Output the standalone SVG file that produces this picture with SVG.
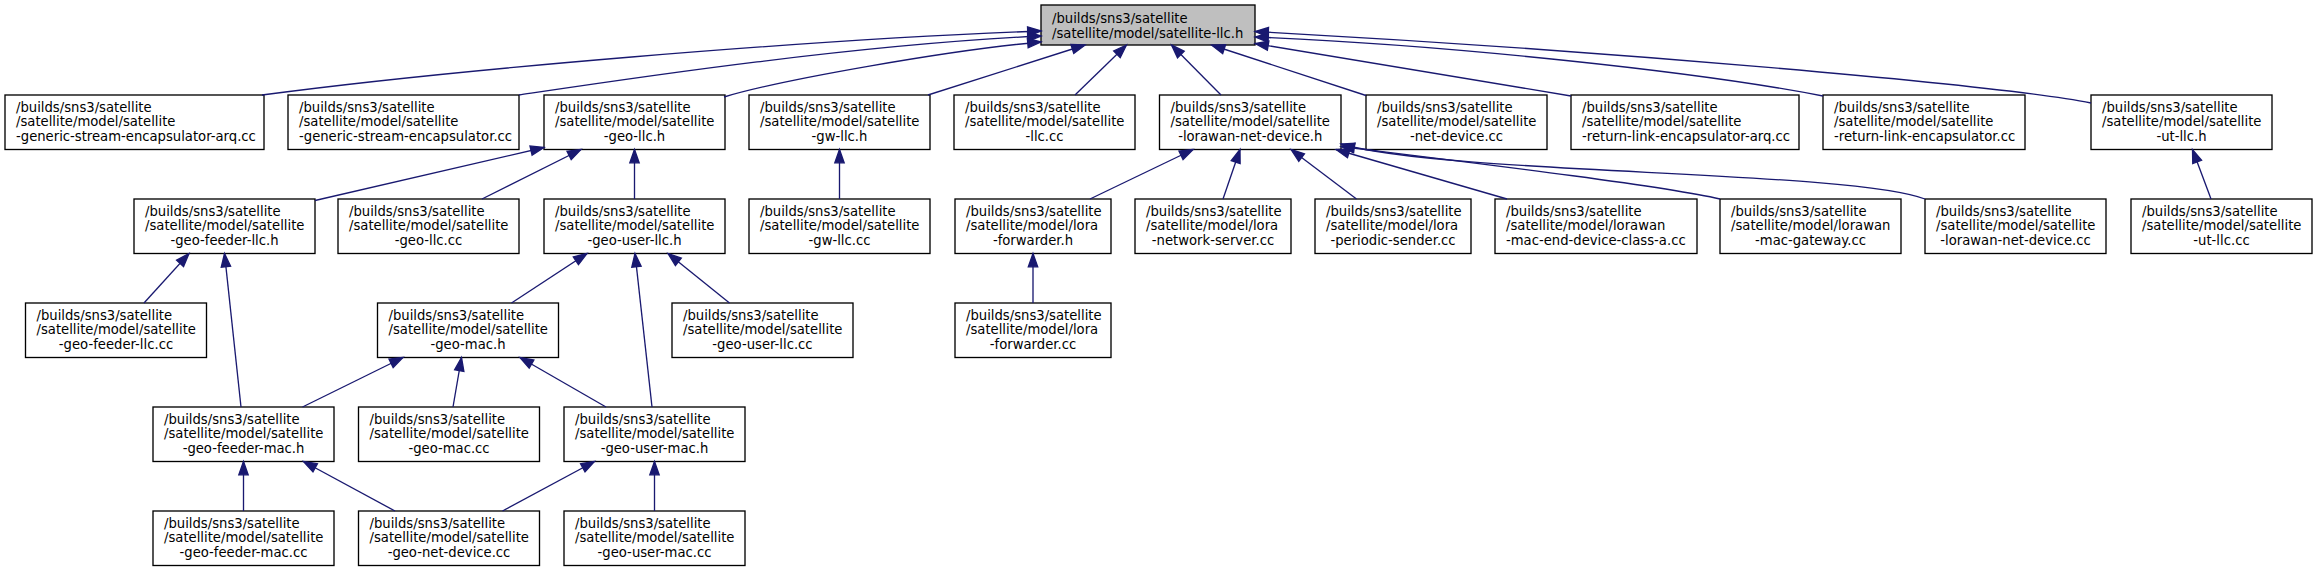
<svg xmlns="http://www.w3.org/2000/svg" width="2317" height="572" viewBox="0 0 2317 572">
<style>
.n rect{fill:#fff;stroke:#000;stroke-width:1.33}
#root rect{fill:#bfbfbf}
text{font-family:"DejaVu Sans","Liberation Sans",sans-serif;font-size:13.2px;fill:#000}
.m{text-anchor:middle}
.e{fill:none;stroke:#191970;stroke-width:1.33;marker-end:url(#ah)}
</style>
<defs>
<marker id="ah" markerUnits="userSpaceOnUse" markerWidth="18" markerHeight="14" viewBox="-15 -7 18 14" refX="0" refY="0" orient="auto">
<path d="M0,0 L-13.3,-4.7 L-13.3,4.7 Z" fill="#191970" stroke="#191970" stroke-width="1.33"/>
</marker>
</defs>
<rect width="2317" height="572" fill="#fff"/>

<g id="root" class="n"><rect x="1041" y="5" width="214" height="40"/><text x="1052" y="23.3">/builds/sns3/satellite</text><text x="1052" y="37.8">/satellite/model/satellite-llc.h</text></g>

<g id="n_gse_arq" class="n"><rect x="5" y="95" width="259" height="54.5"/><text x="16" y="111.5">/builds/sns3/satellite</text><text x="16" y="126">/satellite/model/satellite</text><text x="16" y="140.5">-generic-stream-encapsulator-arq.cc</text></g>
<g id="n_gse" class="n"><rect x="288" y="95" width="231" height="54.5"/><text x="299" y="111.5">/builds/sns3/satellite</text><text x="299" y="126">/satellite/model/satellite</text><text x="299" y="140.5">-generic-stream-encapsulator.cc</text></g>
<g id="n_geo_llc_h" class="n"><rect x="544" y="95" width="181" height="54.5"/><text x="555" y="111.5">/builds/sns3/satellite</text><text x="555" y="126">/satellite/model/satellite</text><text class="m" x="634.5" y="140.5">-geo-llc.h</text></g>
<g id="n_gw_llc_h" class="n"><rect x="749" y="95" width="181" height="54.5"/><text x="760" y="111.5">/builds/sns3/satellite</text><text x="760" y="126">/satellite/model/satellite</text><text class="m" x="839.5" y="140.5">-gw-llc.h</text></g>
<g id="n_llc_cc" class="n"><rect x="954" y="95" width="181" height="54.5"/><text x="965" y="111.5">/builds/sns3/satellite</text><text x="965" y="126">/satellite/model/satellite</text><text class="m" x="1044.5" y="140.5">-llc.cc</text></g>
<g id="n_lorawan_nd_h" class="n"><rect x="1159.5" y="95" width="181.5" height="54.5"/><text x="1170.5" y="111.5">/builds/sns3/satellite</text><text x="1170.5" y="126">/satellite/model/satellite</text><text class="m" x="1250.25" y="140.5">-lorawan-net-device.h</text></g>
<g id="n_net_device_cc" class="n"><rect x="1366" y="95" width="181" height="54.5"/><text x="1377" y="111.5">/builds/sns3/satellite</text><text x="1377" y="126">/satellite/model/satellite</text><text class="m" x="1456.5" y="140.5">-net-device.cc</text></g>
<g id="n_rle_arq" class="n"><rect x="1571" y="95" width="228" height="54.5"/><text x="1582" y="111.5">/builds/sns3/satellite</text><text x="1582" y="126">/satellite/model/satellite</text><text x="1582" y="140.5">-return-link-encapsulator-arq.cc</text></g>
<g id="n_rle" class="n"><rect x="1823" y="95" width="202" height="54.5"/><text x="1834" y="111.5">/builds/sns3/satellite</text><text x="1834" y="126">/satellite/model/satellite</text><text x="1834" y="140.5">-return-link-encapsulator.cc</text></g>
<g id="n_ut_llc_h" class="n"><rect x="2091" y="95" width="181" height="54.5"/><text x="2102" y="111.5">/builds/sns3/satellite</text><text x="2102" y="126">/satellite/model/satellite</text><text class="m" x="2181.5" y="140.5">-ut-llc.h</text></g>

<g id="n_geo_feeder_llc_h" class="n"><rect x="134" y="199" width="181" height="54.5"/><text x="145" y="215.5">/builds/sns3/satellite</text><text x="145" y="230">/satellite/model/satellite</text><text class="m" x="224.5" y="244.5">-geo-feeder-llc.h</text></g>
<g id="n_geo_llc_cc" class="n"><rect x="338" y="199" width="181" height="54.5"/><text x="349" y="215.5">/builds/sns3/satellite</text><text x="349" y="230">/satellite/model/satellite</text><text class="m" x="428.5" y="244.5">-geo-llc.cc</text></g>
<g id="n_geo_user_llc_h" class="n"><rect x="544" y="199" width="181" height="54.5"/><text x="555" y="215.5">/builds/sns3/satellite</text><text x="555" y="230">/satellite/model/satellite</text><text class="m" x="634.5" y="244.5">-geo-user-llc.h</text></g>
<g id="n_gw_llc_cc" class="n"><rect x="749" y="199" width="181" height="54.5"/><text x="760" y="215.5">/builds/sns3/satellite</text><text x="760" y="230">/satellite/model/satellite</text><text class="m" x="839.5" y="244.5">-gw-llc.cc</text></g>
<g id="n_lora_fwd_h" class="n"><rect x="955" y="199" width="156" height="54.5"/><text x="966" y="215.5">/builds/sns3/satellite</text><text x="966" y="230">/satellite/model/lora</text><text class="m" x="1033" y="244.5">-forwarder.h</text></g>
<g id="n_lora_ns_cc" class="n"><rect x="1135" y="199" width="156" height="54.5"/><text x="1146" y="215.5">/builds/sns3/satellite</text><text x="1146" y="230">/satellite/model/lora</text><text class="m" x="1213" y="244.5">-network-server.cc</text></g>
<g id="n_lora_ps_cc" class="n"><rect x="1315" y="199" width="156" height="54.5"/><text x="1326" y="215.5">/builds/sns3/satellite</text><text x="1326" y="230">/satellite/model/lora</text><text class="m" x="1393" y="244.5">-periodic-sender.cc</text></g>
<g id="n_lorawan_ed_cc" class="n"><rect x="1495" y="199" width="202" height="54.5"/><text x="1506" y="215.5">/builds/sns3/satellite</text><text x="1506" y="230">/satellite/model/lorawan</text><text x="1506" y="244.5">-mac-end-device-class-a.cc</text></g>
<g id="n_lorawan_gw_cc" class="n"><rect x="1720" y="199" width="181" height="54.5"/><text x="1731" y="215.5">/builds/sns3/satellite</text><text x="1731" y="230">/satellite/model/lorawan</text><text class="m" x="1810.5" y="244.5">-mac-gateway.cc</text></g>
<g id="n_lorawan_nd_cc" class="n"><rect x="1925" y="199" width="181" height="54.5"/><text x="1936" y="215.5">/builds/sns3/satellite</text><text x="1936" y="230">/satellite/model/satellite</text><text class="m" x="2015.5" y="244.5">-lorawan-net-device.cc</text></g>
<g id="n_ut_llc_cc" class="n"><rect x="2131" y="199" width="181" height="54.5"/><text x="2142" y="215.5">/builds/sns3/satellite</text><text x="2142" y="230">/satellite/model/satellite</text><text class="m" x="2221.5" y="244.5">-ut-llc.cc</text></g>

<g id="n_geo_feeder_llc_cc" class="n"><rect x="25.5" y="303" width="181" height="54.5"/><text x="36.5" y="319.5">/builds/sns3/satellite</text><text x="36.5" y="334">/satellite/model/satellite</text><text class="m" x="116" y="348.5">-geo-feeder-llc.cc</text></g>
<g id="n_geo_mac_h" class="n"><rect x="377.5" y="303" width="181" height="54.5"/><text x="388.5" y="319.5">/builds/sns3/satellite</text><text x="388.5" y="334">/satellite/model/satellite</text><text class="m" x="468" y="348.5">-geo-mac.h</text></g>
<g id="n_geo_user_llc_cc" class="n"><rect x="672" y="303" width="181" height="54.5"/><text x="683" y="319.5">/builds/sns3/satellite</text><text x="683" y="334">/satellite/model/satellite</text><text class="m" x="762.5" y="348.5">-geo-user-llc.cc</text></g>
<g id="n_lora_fwd_cc" class="n"><rect x="955" y="303" width="156" height="54.5"/><text x="966" y="319.5">/builds/sns3/satellite</text><text x="966" y="334">/satellite/model/lora</text><text class="m" x="1033" y="348.5">-forwarder.cc</text></g>

<g id="n_geo_feeder_mac_h" class="n"><rect x="153" y="407" width="181" height="54.5"/><text x="164" y="423.5">/builds/sns3/satellite</text><text x="164" y="438">/satellite/model/satellite</text><text class="m" x="243.5" y="452.5">-geo-feeder-mac.h</text></g>
<g id="n_geo_mac_cc" class="n"><rect x="358.5" y="407" width="181" height="54.5"/><text x="369.5" y="423.5">/builds/sns3/satellite</text><text x="369.5" y="438">/satellite/model/satellite</text><text class="m" x="449" y="452.5">-geo-mac.cc</text></g>
<g id="n_geo_user_mac_h" class="n"><rect x="564" y="407" width="181" height="54.5"/><text x="575" y="423.5">/builds/sns3/satellite</text><text x="575" y="438">/satellite/model/satellite</text><text class="m" x="654.5" y="452.5">-geo-user-mac.h</text></g>

<g id="n_geo_feeder_mac_cc" class="n"><rect x="153" y="511" width="181" height="54.5"/><text x="164" y="527.5">/builds/sns3/satellite</text><text x="164" y="542">/satellite/model/satellite</text><text class="m" x="243.5" y="556.5">-geo-feeder-mac.cc</text></g>
<g id="n_geo_net_device_cc" class="n"><rect x="358.5" y="511" width="181" height="54.5"/><text x="369.5" y="527.5">/builds/sns3/satellite</text><text x="369.5" y="542">/satellite/model/satellite</text><text class="m" x="449" y="556.5">-geo-net-device.cc</text></g>
<g id="n_geo_user_mac_cc" class="n"><rect x="564" y="511" width="181" height="54.5"/><text x="575" y="527.5">/builds/sns3/satellite</text><text x="575" y="542">/satellite/model/satellite</text><text class="m" x="654.5" y="556.5">-geo-user-mac.cc</text></g>

<g id="edges">
<path class="e" d="M262,95 C450,70 800,40 1041,31"/>
<path class="e" d="M519,95 C620,80 850,45 1041,36"/>
<path class="e" d="M724,97 C780,80 950,50 1041,42"/>
<path class="e" d="M928,95 L1085,45"/>
<path class="e" d="M1075,95 L1126.5,45"/>
<path class="e" d="M1221,95 L1171.5,45"/>
<path class="e" d="M1366,95.5 L1211.5,45"/>
<path class="e" d="M1571,96 L1255,43.5"/>
<path class="e" d="M1823,96 C1700,72 1450,45 1255,37"/>
<path class="e" d="M2091,103 C2000,85 1600,50 1255,31.5"/>
<path class="e" d="M1090,199 L1193,149.5"/>
<path class="e" d="M1223,199 L1240,149.5"/>
<path class="e" d="M1356.5,199 L1291,149.5"/>
<path class="e" d="M1507,199 L1336,149.5"/>
<path class="e" d="M1720,199 C1660,185 1450,160 1341,146.5"/>
<path class="e" d="M1925,199 C1850,170 1450,175 1341,144"/>
<path class="e" d="M839.5,199 L839.5,149.5"/>
<path class="e" d="M1033,303 L1033,253.5"/>
<path class="e" d="M315,200.5 L544,147.5"/>
<path class="e" d="M482,199 L581,149.5"/>
<path class="e" d="M634.5,199 L634.5,149.5"/>
<path class="e" d="M144,303 L189,253.5"/>
<path class="e" d="M241,407 L224.5,253.5"/>
<path class="e" d="M511.5,303 L587,253.5"/>
<path class="e" d="M729.5,303 L668,253.5"/>
<path class="e" d="M652,407 L635,253.5"/>
<path class="e" d="M302.5,407 L403,357.5"/>
<path class="e" d="M453,407 L461.5,357.5"/>
<path class="e" d="M606,407 L520,357.5"/>
<path class="e" d="M243.5,511 L243.5,461.5"/>
<path class="e" d="M395,511 L303.5,461.5"/>
<path class="e" d="M502.5,511 L594.5,461.5"/>
<path class="e" d="M654.5,511 L654.5,461.5"/>
<path class="e" d="M2211,199 L2192.5,149.5"/>
</g>
</svg>
